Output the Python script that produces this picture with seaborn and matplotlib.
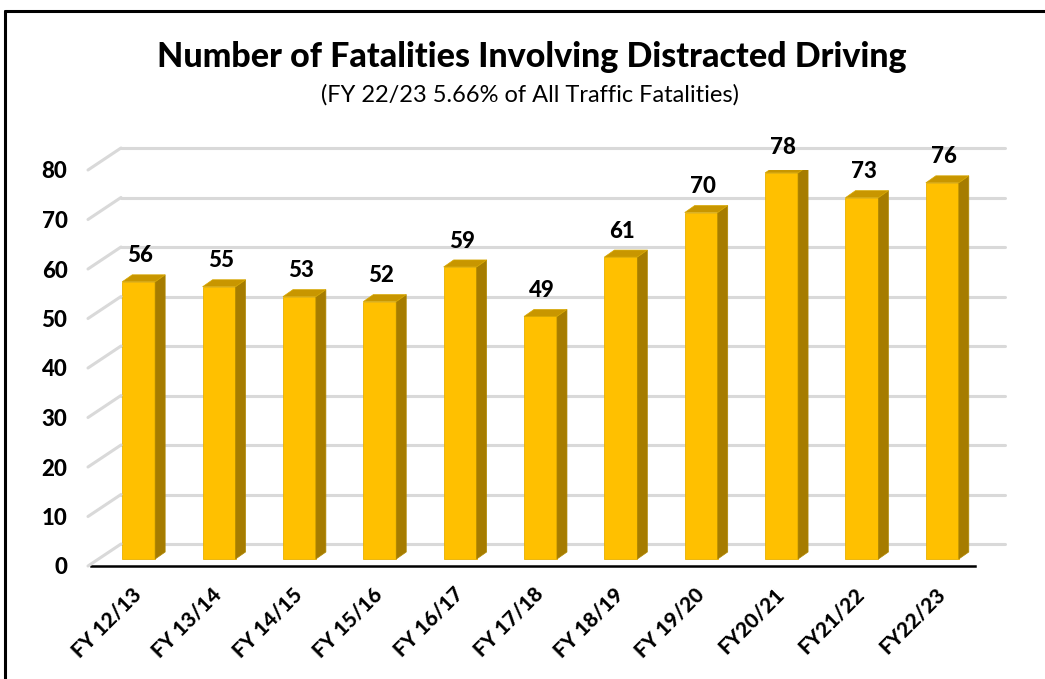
import numpy as np
import matplotlib
matplotlib.use("Agg")
import matplotlib.pyplot as plt
import matplotlib.transforms as mtransforms
from matplotlib.patches import Polygon
import seaborn as sns

# data
years = ["FY 12/13", "FY 13/14", "FY 14/15", "FY 15/16", "FY 16/17", "FY 17/18",
         "FY 18/19", "FY 19/20", "FY20/21", "FY21/22", "FY22/23"]
fatalities = [56, 55, 53, 52, 59, 49, 61, 70, 78, 73, 76]
y_ticks = [0, 10, 20, 30, 40, 50, 60, 70, 80]

title = "Number of Fatalities Involving Distracted Driving"
subtitle = "(FY 22/23 5.66% of All Traffic Fatalities)"

FRONT = "#FFC000"
SIDE = "#A67C00"
TOP = "#C89600"
GRID = "#D9D9D9"
BOLD = 900

sns.set_style("white")
plt.rcParams["font.family"] = ["Lato", "DejaVu Sans"]
plt.rcParams["text.color"] = "black"
plt.rcParams["xtick.color"] = "black"
plt.rcParams["ytick.color"] = "black"

W, H = 1045, 679
fig = plt.figure(figsize=(W / 100, H / 100), dpi=100)

# plot area in pixels: x 91..975, y (value 0) 566 .. (value 80) 170
ax = fig.add_axes([91 / W, 1 - 566 / H, (975 - 91) / W, (566 - 170) / H])
sns.barplot(x=years, y=fatalities, color=FRONT, width=0.41, saturation=1,
            edgecolor="#E8B000", linewidth=0.6, ax=ax, zorder=3)
ax.set_xlim(-0.5, len(years) - 0.5)
ax.set_ylim(0, 80)

# 3d look: bars sit a bit back into the floor
bar_shift = mtransforms.ScaledTranslation(0.075, 0.07, fig.dpi_scale_trans)
for p in ax.patches:
    p.set_transform(ax.transData + bar_shift)

# depth of a bar (pixels -> data)
px_x = (975 - 91) / len(years)
px_y = (566 - 170) / 80
dx, dy = 10 / px_x, 7 / px_y
half = 0.41 / 2
for i, v in enumerate(fatalities):
    side = Polygon([(i + half, 0), (i + half + dx, dy), (i + half + dx, v + dy), (i + half, v)],
                   closed=True, facecolor=SIDE, edgecolor="#B08800", lw=0.5,
                   transform=ax.transData + bar_shift, zorder=3)
    top = Polygon([(i - half, v), (i + half, v), (i + half + dx, v + dy), (i - half + dx, v + dy)],
                  closed=True, facecolor=TOP, edgecolor="#D8A800", lw=0.5,
                  transform=ax.transData + bar_shift, zorder=3)
    ax.add_patch(side)
    ax.add_patch(top)
    ax.annotate(str(v), (i + 0.02, v + dy), xytext=(0, 6), textcoords="offset points",
                xycoords=ax.transData + bar_shift, ha="center", va="bottom",
                fontsize=16, fontweight=BOLD, color="black", zorder=5)

# back wall gridlines + left side diagonals
back = mtransforms.ScaledTranslation(0.30, 0.22, fig.dpi_scale_trans)
for t in y_ticks:
    ax.plot([-0.5, len(years) - 0.5], [t, t], color=GRID, lw=2.2,
            transform=ax.transData + back, clip_on=False, zorder=1, solid_capstyle="round")
    p0 = (ax.transData + mtransforms.ScaledTranslation(-0.03, 0, fig.dpi_scale_trans)).transform((-0.5, t))
    p1 = (ax.transData + back).transform((-0.5, t))
    fig.add_artist(plt.Line2D([p0[0] / W, p1[0] / W], [p0[1] / H, p1[1] / H],
                              color=GRID, lw=2.2, transform=fig.transFigure, zorder=1,
                              solid_capstyle="round"))

for s in ["left", "right", "top"]:
    ax.spines[s].set_visible(False)
ax.spines["bottom"].set_color("black")
ax.spines["bottom"].set_linewidth(1.8)
ax.spines["bottom"].set_zorder(4)

ax.set_yticks(y_ticks)
ax.set_yticklabels([str(t) for t in y_ticks], fontsize=16, fontweight=BOLD, color="black")
ax.tick_params(axis="y", length=0, pad=17)

ax.set_xticks(range(len(years)))
ax.set_xticklabels(years, rotation=45, ha="right", rotation_mode="anchor",
                   fontsize=15, fontweight=BOLD, color="black")
ax.tick_params(axis="x", which="major", length=0, pad=13)
ax.set_xticks(np.arange(-0.5, len(years)), minor=True)
ax.tick_params(axis="x", which="minor", length=6, width=1.8, color="black", direction="out")
ax.set_xlabel("")
ax.set_ylabel("")
ax.patch.set_alpha(0)

fig.text(532 / W, 1 - 57 / H, title, ha="center", va="center",
         fontsize=24.5, fontweight=BOLD, color="black")
fig.text(530 / W, 1 - 95 / H, subtitle, ha="center", va="center", fontsize=17, color="black")

# outer frame (top and left only)
fig.add_artist(plt.Line2D([5 / W, 5 / W], [0, 1 - 11 / H], color="black", lw=2.2,
                          transform=fig.transFigure))
fig.add_artist(plt.Line2D([5 / W, 1], [1 - 11 / H, 1 - 11 / H], color="black", lw=2.2,
                          transform=fig.transFigure))

fig.savefig("out.png", dpi=100)
